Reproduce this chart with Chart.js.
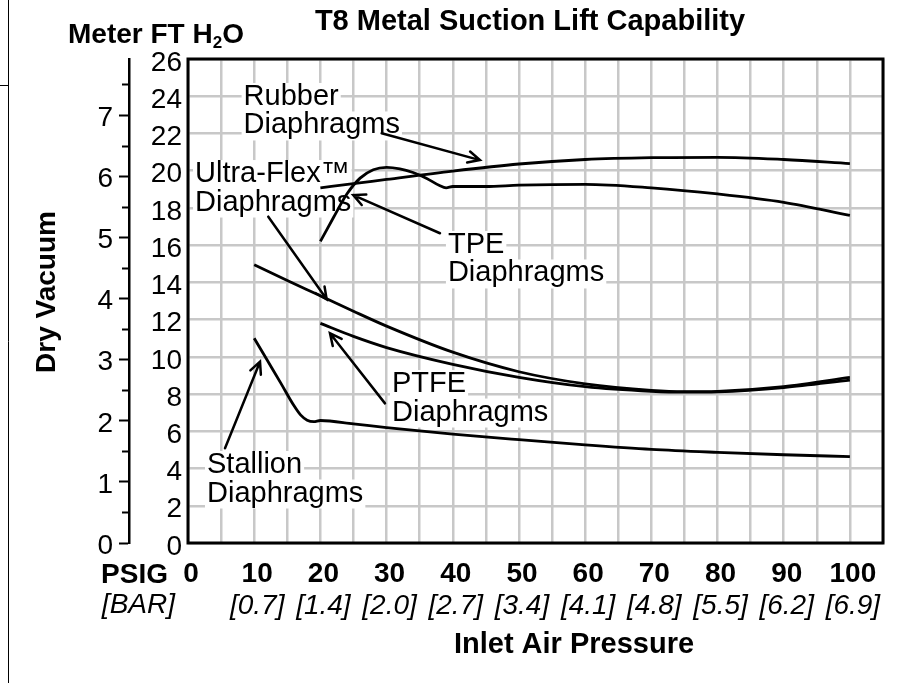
<!DOCTYPE html>
<html>
<head>
<meta charset="utf-8">
<title>T8 Metal Suction Lift Capability</title>
<script src="https://cdn.jsdelivr.net/npm/chart.js@4.4.1/dist/chart.umd.min.js"></script>
<style>
  html, body { margin: 0; padding: 0; background: #fff; }
  #wrap { width: 916px; height: 683px; position: relative; }
</style>
</head>
<body>
<div id="wrap"><canvas id="myChart"></canvas></div>
<script>
// values (psi -> ft H2O)
const rubberPsi = [20, 25, 30, 40, 50, 60, 70, 80, 90, 100]
const rubberFt  = [19.08, 19.3, 19.53, 19.98, 20.36, 20.6, 20.7, 20.72, 20.6, 20.38]

const tpePsi = [20, 22, 24, 26, 28, 30, 32, 34, 36, 38, 39, 40, 45, 50, 60, 70, 80, 90, 100]
const tpeFt  = [16.2, 17.5, 18.75, 19.6, 20.05, 20.18, 20.1, 19.9, 19.6, 19.2, 19.08, 19.15, 19.15, 19.22, 19.27, 19.08, 18.75, 18.3, 17.6]

const ultraPsi = [10, 15, 20, 25, 30, 40, 50, 60, 70, 75, 80, 90, 100]
const ultraFt  = [14.95, 14.1, 13.28, 12.45, 11.65, 10.25, 9.2, 8.55, 8.2, 8.13, 8.15, 8.4, 8.9]

const ptfePsi = [20, 25, 30, 40, 50, 60, 70, 75, 80, 90, 100]
const ptfeFt  = [11.8, 11.1, 10.5, 9.6, 8.9, 8.4, 8.15, 8.1, 8.12, 8.35, 8.75]

const stallionPsi = [10, 12, 14, 16, 17, 18, 19, 20, 25, 30, 40, 50, 60, 70, 80, 90, 100]
const stallionFt  = [11.0, 9.8, 8.6, 7.38, 6.88, 6.6, 6.52, 6.58, 6.4, 6.2, 5.85, 5.55, 5.27, 5.03, 4.87, 4.74, 4.64]

const barTicks = ['0.7', '1.4', '2.0', '2.7', '3.4', '4.1', '4.8', '5.5', '6.2', '6.9']
const FT_PER_M = 3.2808

const FONT = "'Liberation Sans', Arial, Helvetica, sans-serif"

// annotation text and arrows, anchored in chart units
const notes = [
  {lines: ['Rubber', 'Diaphragms'], psi: 8.4, ft: 23.53},
  {lines: ['Ultra-Flex™', 'Diaphragms'], psi: 1.06, ft: 19.39},
  {lines: ['TPE', 'Diaphragms'], psi: 39.27, ft: 15.58},
  {lines: ['PTFE', 'Diaphragms'], psi: 30.82, ft: 8.11},
  {lines: ['Stallion', 'Diaphragms'], psi: 2.87, ft: 3.76}
]
const arrows = [
  [29.26, 22.01, 44.1, 20.57],
  [12.13, 17.53, 20.95, 13.09],
  [38.07, 16.64, 24.97, 18.69],
  [29.76, 7.5, 21.45, 11.27],
  [5.59, 5.09, 10.88, 9.74]
]

function pts(xs, ys) {
  return xs.map((v, i) => ({x: v, y: ys[i]}))
}

function line(data) {
  return {
    data: data,
    borderColor: '#000',
    borderWidth: 2.8,
    pointRadius: 0,
    fill: false,
    cubicInterpolationMode: 'monotone'
  }
}

const drawExtras = {
  id: 'drawExtras',
  beforeDatasetsDraw(chart) {
    const {ctx, chartArea: a} = chart
    const sx = chart.scales.x, sy = chart.scales.y
    ctx.save()
    ctx.font = '29px ' + FONT
    ctx.textBaseline = 'alphabetic'
    ctx.textAlign = 'left'
    notes.forEach(n => {
      n.lines.forEach((t, i) => {
        const px = sx.getPixelForValue(n.psi)
        const py = sy.getPixelForValue(n.ft) + i * 28.5
        const w = ctx.measureText(t).width
        ctx.fillStyle = '#fff'
        ctx.fillRect(px - 2, py - 22, w + 4, 29)
        ctx.fillStyle = '#000'
        ctx.fillText(t, px, py)
      })
    })
    ctx.strokeStyle = '#000'
    ctx.lineWidth = 3
    ctx.strokeRect(a.left, a.top, a.right - a.left, a.bottom - a.top)
    ctx.restore()
  },
  afterDatasetsDraw(chart) {
    const {ctx} = chart
    const sx = chart.scales.x, sy = chart.scales.y
    ctx.save()
    ctx.strokeStyle = '#000'
    ctx.lineWidth = 2.5
    ctx.lineCap = 'round'
    arrows.forEach(ar => {
      const x1 = sx.getPixelForValue(ar[0]), y1 = sy.getPixelForValue(ar[1])
      const x2 = sx.getPixelForValue(ar[2]), y2 = sy.getPixelForValue(ar[3])
      const ang = Math.atan2(y2 - y1, x2 - x1)
      ctx.beginPath()
      ctx.moveTo(x1, y1)
      ctx.lineTo(x2, y2)
      ctx.moveTo(x2 - 13 * Math.cos(ang - 0.45), y2 - 13 * Math.sin(ang - 0.45))
      ctx.lineTo(x2, y2)
      ctx.lineTo(x2 - 13 * Math.cos(ang + 0.45), y2 - 13 * Math.sin(ang + 0.45))
      ctx.stroke()
    })
    ctx.restore()
  },
  afterDraw(chart) {
    const {ctx} = chart
    const x0 = chart.scales.x.getPixelForValue(0)
    const m = chart.scales.y2
    ctx.save()
    ctx.fillStyle = '#000'
    ctx.textBaseline = 'alphabetic'

    // border bits at the left edge of the page
    ctx.strokeStyle = '#000'
    ctx.lineWidth = 1
    ctx.beginPath()
    ctx.moveTo(8.5, 0); ctx.lineTo(8.5, 683)
    ctx.moveTo(0, 85.5); ctx.lineTo(8.5, 85.5)
    ctx.stroke()

    // half-metre ticks are shorter: blank the outer part
    ctx.fillStyle = '#fff'
    m.ticks.forEach(tk => {
      if (!Number.isInteger(tk.value)) {
        const py = m.getPixelForValue(tk.value)
        ctx.fillRect(m.right - 12, py - 2, 5, 4)
      }
    })
    ctx.fillStyle = '#000'

    ctx.font = 'bold 29px ' + FONT
    ctx.textAlign = 'center'
    ctx.fillText('T8 Metal Suction Lift Capability', 530, 30)
    ctx.fillText('Inlet Air Pressure', 574, 653)

    ctx.textAlign = 'left'
    ctx.font = 'bold 28px ' + FONT
    let t = 'Meter FT H'
    ctx.fillText(t, 68, 43)
    let cx = 68 + ctx.measureText(t).width
    ctx.font = 'bold 17px ' + FONT
    ctx.fillText('2', cx, 48)
    cx += ctx.measureText('2').width
    ctx.font = 'bold 28px ' + FONT
    ctx.fillText('O', cx, 43)

    ctx.textAlign = 'right'
    ctx.fillText('PSIG', x0 - 20, 583)
    ctx.font = 'italic 28px ' + FONT
    ctx.fillText('[BAR]', x0 - 13, 613)

    ctx.translate(55, 292)
    ctx.rotate(-Math.PI / 2)
    ctx.textAlign = 'center'
    ctx.font = 'bold 28px ' + FONT
    ctx.fillText('Dry Vacuum', 0, 0)
    ctx.restore()
  }
}

const ctx = document.getElementById('myChart')

const data = {
  datasets: [
    line(pts(rubberPsi, rubberFt)),
    line(pts(tpePsi, tpeFt)),
    line(pts(ultraPsi, ultraFt)),
    line(pts(ptfePsi, ptfeFt)),
    line(pts(stallionPsi, stallionFt))
  ]
}

const gridGrey = '#c8c8c8'

var myChart = new Chart(ctx, {
  type: 'line',
  data: data,
  plugins: [drawExtras],
  options: {
    responsive: true,
    maintainAspectRatio: false,
    animation: false,
    layout: {padding: {top: 59, right: 33, bottom: 0, left: 0}},
    plugins: {
      legend: {display: false},
      tooltip: {enabled: false},
      title: {display: false}
    },
    scales: {
      x: {
        type: 'linear',
        position: 'bottom',
        weight: 0,
        min: 0,
        max: 105,
        grid: {color: gridGrey, lineWidth: 2.5, drawTicks: false},
        border: {display: false},
        ticks: {
          stepSize: 5,
          autoSkip: false,
          maxRotation: 0,
          padding: 14,
          labelOffset: 3,
          color: '#000',
          font: {family: FONT, size: 28, weight: 'bold'},
          callback: v => (v % 10 === 0 && v <= 100) ? String(v) : ''
        },
        afterFit: s => { s.height = 44 }
      },
      x2: {
        type: 'linear',
        position: 'bottom',
        weight: 1,
        min: 0,
        max: 105,
        grid: {display: false, drawTicks: false},
        border: {display: false},
        ticks: {
          stepSize: 5,
          autoSkip: false,
          maxRotation: 0,
          padding: 2,
          labelOffset: 3,
          color: '#000',
          font: {family: FONT, size: 28, style: 'italic'},
          callback: v => (v % 10 === 0 && v > 0 && v <= 100) ? '[' + barTicks[v / 10 - 1] + ']' : ''
        },
        afterFit: s => { s.height = 96 }
      },
      y: {
        type: 'linear',
        position: 'left',
        weight: 0,
        min: 0,
        max: 26,
        grid: {color: gridGrey, lineWidth: 2.5, drawTicks: false},
        border: {display: false},
        ticks: {
          stepSize: 2,
          autoSkip: false,
          padding: 6,
          labelOffset: 4,
          color: '#000',
          font: {family: FONT, size: 28}
        },
        afterFit: s => { s.width = 59 }
      },
      y2: {
        type: 'linear',
        position: 'left',
        weight: 1,
        min: 0,
        max: 26 / FT_PER_M,
        grid: {drawOnChartArea: false, tickLength: 10, tickColor: '#000', tickWidth: 2},
        border: {display: true, color: '#000', width: 2.5},
        ticks: {
          stepSize: 0.5,
          includeBounds: false,
          autoSkip: false,
          padding: 6,
          labelOffset: 3,
          color: '#000',
          font: {family: FONT, size: 28},
          callback: v => Number.isInteger(v) ? String(v) : ''
        },
        afterFit: s => { s.width = 129 }
      }
    }
  }
})
</script>
</body>
</html>
